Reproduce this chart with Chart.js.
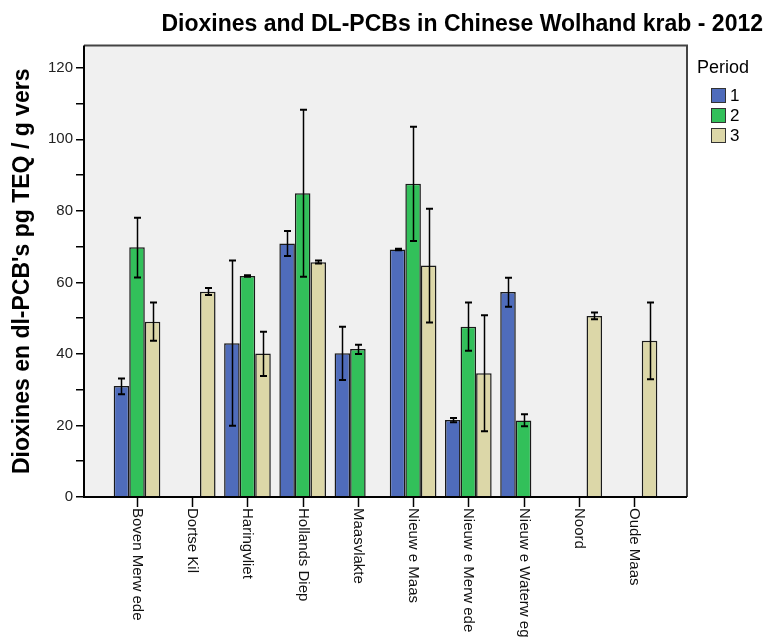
<!DOCTYPE html>
<html>
<head>
<meta charset="utf-8">
<script src="https://cdn.jsdelivr.net/npm/chart.js@4"></script>
<style>
  body { margin: 0; background: #fff; }
  #wrap { width: 768px; height: 641px; }
</style>
</head>
<body>
<div id="wrap"><canvas id="krabChart" width="768" height="641"></canvas></div>
<script>
const categories = ['Boven Merw ede', 'Dortse Kil', 'Haringvliet', 'Hollands Diep', 'Maasvlakte',
    'Nieuw e Maas', 'Nieuw e Merw ede', 'Nieuw e Waterw eg', 'Noord', 'Oude Maas'];
const periods = ['1', '2', '3'];

const period1 = [31.0, null, 43.0, 70.9, 40.2, 69.2, 21.5, 57.3, null, null];
const period1Low = [28.7, null, 19.9, 67.4, 32.7, 69.0, 20.9, 53.2, null, null];
const period1High = [33.1, null, 66.1, 74.4, 47.6, 69.4, 22.1, 61.3, null, null];

const period2 = [69.8, null, 61.8, 84.9, 41.4, 87.6, 47.6, 21.4, null, null];
const period2Low = [61.4, null, 61.6, 61.6, 40.0, 71.6, 40.9, 19.8, null, null];
const period2High = [78.1, null, 62.0, 108.3, 42.6, 103.5, 54.4, 23.1, null, null];

const period3 = [49.0, 57.4, 40.1, 65.6, null, 64.7, 34.6, null, 50.6, 43.7];
const period3Low = [43.7, 56.5, 33.8, 65.3, null, 48.8, 18.4, null, 49.7, 32.9];
const period3High = [54.4, 58.4, 46.2, 66.1, null, 80.6, 50.8, null, 51.6, 54.4];

const colors = ['#4F6CBB', '#32C05A', '#DCD7A8'];
const FONT = "'Liberation Sans', Arial, sans-serif";

function toPoints(values) {
    return values.map((v, i) => ({ x: i, y: v }));
}

const seriesValues = [period1, period2, period3];
const seriesLow = [period1Low, period2Low, period3Low];
const seriesHigh = [period1High, period2High, period3High];

const chartData = {
    datasets: periods.map((p, k) => ({
        label: p,
        data: toPoints(seriesValues[k]),
        backgroundColor: colors[k],
        borderColor: '#1a1a1a',
        borderWidth: 1.5,
        categoryPercentage: 0.88,
        barPercentage: 1.0
    }))
};

// plot box, error bars, x labels and legend
const extrasPlugin = {
    id: 'extras',
    beforeDatasetsDraw(chart) {
        const { ctx, chartArea: a } = chart;
        ctx.save();
        ctx.fillStyle = '#F0F0F0';
        ctx.fillRect(a.left, a.top, a.right - a.left, a.bottom - a.top);
        ctx.restore();
    },
    afterDatasetsDraw(chart) {
        const { ctx, chartArea: a } = chart;
        const yScale = chart.scales.y;
        const xScale = chart.scales.x;
        ctx.save();

        // error bars
        ctx.strokeStyle = '#000';
        chart.data.datasets.forEach((ds, k) => {
            const meta = chart.getDatasetMeta(k);
            meta.data.forEach((bar, i) => {
                if (seriesValues[k][i] == null) return;
                const x = Math.round(bar.x) + 0.5;
                const yl = yScale.getPixelForValue(seriesLow[k][i]);
                const yh = yScale.getPixelForValue(seriesHigh[k][i]);
                ctx.lineWidth = 1.5;
                ctx.beginPath();
                ctx.moveTo(x, yl);
                ctx.lineTo(x, yh);
                ctx.stroke();
                ctx.lineWidth = 2;
                ctx.beginPath();
                ctx.moveTo(x - 3.5, yl);
                ctx.lineTo(x + 3.5, yl);
                ctx.moveTo(x - 3.5, yh);
                ctx.lineTo(x + 3.5, yh);
                ctx.stroke();
            });
        });

        // box
        ctx.lineWidth = 2;
        ctx.strokeStyle = '#444';
        ctx.beginPath();
        ctx.moveTo(a.left, a.top);
        ctx.lineTo(a.right, a.top);
        ctx.lineTo(a.right, a.bottom);
        ctx.stroke();
        ctx.strokeStyle = '#000';
        ctx.beginPath();
        ctx.moveTo(a.left, a.top);
        ctx.lineTo(a.left, a.bottom);
        ctx.lineTo(a.right, a.bottom);
        ctx.stroke();

        // x ticks and rotated labels
        ctx.fillStyle = '#111';
        ctx.font = '15px ' + FONT;
        ctx.textAlign = 'left';
        ctx.textBaseline = 'middle';
        categories.forEach((c, i) => {
            const x = Math.round(xScale.getPixelForValue(i)) + 0.5;
            ctx.lineWidth = 1.5;
            ctx.beginPath();
            ctx.moveTo(x, a.bottom);
            ctx.lineTo(x, a.bottom + 10);
            ctx.stroke();
            ctx.save();
            ctx.translate(x, a.bottom + 11);
            ctx.rotate(Math.PI / 2);
            ctx.fillText(c, 0, 0);
            ctx.restore();
        });

        // legend
        ctx.fillStyle = '#000';
        ctx.font = '18px ' + FONT;
        ctx.textBaseline = 'alphabetic';
        ctx.fillText('Period', 697, 73);
        ctx.font = '17px ' + FONT;
        ctx.textBaseline = 'middle';
        periods.forEach((p, k) => {
            const top = 88 + k * 20;
            ctx.fillStyle = colors[k];
            ctx.fillRect(711, top, 15, 15);
            ctx.strokeStyle = '#333';
            ctx.lineWidth = 1;
            ctx.strokeRect(711.5, top + 0.5, 14, 14);
            ctx.fillStyle = '#000';
            ctx.fillText(p, 730, top + 8);
        });
        ctx.restore();
    }
};

const ctx = document.getElementById('krabChart').getContext('2d');
const krabChart = new Chart(ctx, {
    type: 'bar',
    data: chartData,
    plugins: [extrasPlugin],
    options: {
        responsive: false,
        animation: false,
        layout: { padding: { left: 0, right: 5, top: 0, bottom: 144 } },
        plugins: {
            legend: { display: false },
            tooltip: { enabled: false },
            title: {
                display: true,
                text: 'Dioxines and DL-PCBs in Chinese Wolhand krab - 2012',
                align: 'end',
                color: '#000',
                font: { family: FONT, size: 23, weight: 'bold' },
                padding: { top: 11, bottom: 7 }
            }
        },
        scales: {
            x: {
                type: 'linear',
                display: false,
                offset: false,
                min: -0.96,
                max: 9.96
            },
            y: {
                min: 0,
                max: 126.2,
                afterFit(scale) { scale.width = 84; },
                border: { display: false },
                grid: { drawOnChartArea: false, drawTicks: true, tickLength: 8, color: '#000', lineWidth: 1.5 },
                ticks: {
                    stepSize: 10,
                    includeBounds: false,
                    autoSkip: false,
                    padding: 3,
                    color: '#222',
                    font: { family: FONT, size: 15 },
                    callback: v => (v % 20 === 0 ? v : '')
                },
                title: {
                    display: true,
                    text: "Dioxines en dl-PCB's pg TEQ / g vers",
                    color: '#000',
                    font: { family: FONT, size: 23, weight: 'bold' },
                    padding: { top: 9, bottom: 0 }
                }
            },
            yRight: {
                type: 'linear',
                position: 'right',
                afterFit(scale) { scale.width = 76; },
                grid: { display: false },
                border: { display: false },
                ticks: { display: false }
            }
        }
    }
});
</script>
</body>
</html>
